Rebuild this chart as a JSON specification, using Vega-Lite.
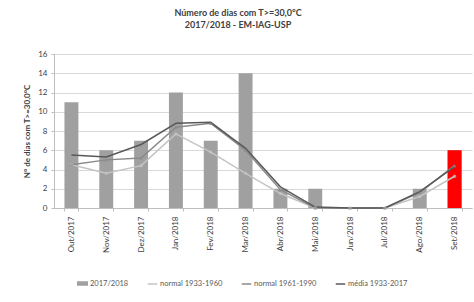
{
  "$schema": "https://vega.github.io/schema/vega-lite/v6.json",
  "autosize": {"type": "none"},
  "width": 418,
  "height": 154,
  "padding": {"left": 54, "top": 54, "right": 2, "bottom": 94},
  "background": "white",
  "config": {
    "font": "Lato",
    "view": {"stroke": null},
    "axis": {"labelColor": "#404040", "titleColor": "#404040", "labelFontSize": 8, "domainColor": "#bfbfbf", "tickColor": "#bfbfbf", "gridColor": "#d9d9d9"}
  },
  "title": {
    "text": ["Número de dias com T>=30,0°C", "2017/2018 - EM-IAG-USP"],
    "fontSize": 9,
    "fontWeight": "bold",
    "color": "#404040",
    "anchor": "middle",
    "dx": -25,
    "offset": 20,
    "lineHeight": 12
  },
  "data": {
    "values": [
      {"mes": "Out/2017", "serie": "2017/2018", "valor": 11},
      {"mes": "Nov/2017", "serie": "2017/2018", "valor": 6},
      {"mes": "Dez/2017", "serie": "2017/2018", "valor": 7},
      {"mes": "Jan/2018", "serie": "2017/2018", "valor": 12},
      {"mes": "Fev/2018", "serie": "2017/2018", "valor": 7},
      {"mes": "Mar/2018", "serie": "2017/2018", "valor": 14},
      {"mes": "Abr/2018", "serie": "2017/2018", "valor": 2},
      {"mes": "Mai/2018", "serie": "2017/2018", "valor": 2},
      {"mes": "Jun/2018", "serie": "2017/2018", "valor": 0},
      {"mes": "Jul/2018", "serie": "2017/2018", "valor": 0},
      {"mes": "Ago/2018", "serie": "2017/2018", "valor": 2},
      {"mes": "Set/2018", "serie": "2017/2018", "valor": 6},
      {"mes": "Out/2017", "serie": "normal 1933-1960", "valor": 4.5},
      {"mes": "Nov/2017", "serie": "normal 1933-1960", "valor": 3.6},
      {"mes": "Dez/2017", "serie": "normal 1933-1960", "valor": 4.4},
      {"mes": "Jan/2018", "serie": "normal 1933-1960", "valor": 7.7},
      {"mes": "Fev/2018", "serie": "normal 1933-1960", "valor": 5.8},
      {"mes": "Mar/2018", "serie": "normal 1933-1960", "valor": 3.6},
      {"mes": "Abr/2018", "serie": "normal 1933-1960", "valor": 1.5},
      {"mes": "Mai/2018", "serie": "normal 1933-1960", "valor": 0},
      {"mes": "Jun/2018", "serie": "normal 1933-1960", "valor": 0},
      {"mes": "Jul/2018", "serie": "normal 1933-1960", "valor": 0},
      {"mes": "Ago/2018", "serie": "normal 1933-1960", "valor": 1.2},
      {"mes": "Set/2018", "serie": "normal 1933-1960", "valor": 3.3},
      {"mes": "Out/2017", "serie": "normal 1961-1990", "valor": 4.5},
      {"mes": "Nov/2017", "serie": "normal 1961-1990", "valor": 5.0},
      {"mes": "Dez/2017", "serie": "normal 1961-1990", "valor": 5.2},
      {"mes": "Jan/2018", "serie": "normal 1961-1990", "valor": 8.4},
      {"mes": "Fev/2018", "serie": "normal 1961-1990", "valor": 8.8},
      {"mes": "Mar/2018", "serie": "normal 1961-1990", "valor": 6.0},
      {"mes": "Abr/2018", "serie": "normal 1961-1990", "valor": 1.9},
      {"mes": "Mai/2018", "serie": "normal 1961-1990", "valor": 0},
      {"mes": "Jun/2018", "serie": "normal 1961-1990", "valor": 0},
      {"mes": "Jul/2018", "serie": "normal 1961-1990", "valor": 0},
      {"mes": "Ago/2018", "serie": "normal 1961-1990", "valor": 1.6},
      {"mes": "Set/2018", "serie": "normal 1961-1990", "valor": 4.4},
      {"mes": "Out/2017", "serie": "média 1933-2017", "valor": 5.5},
      {"mes": "Nov/2017", "serie": "média 1933-2017", "valor": 5.3},
      {"mes": "Dez/2017", "serie": "média 1933-2017", "valor": 6.6},
      {"mes": "Jan/2018", "serie": "média 1933-2017", "valor": 8.8},
      {"mes": "Fev/2018", "serie": "média 1933-2017", "valor": 8.9},
      {"mes": "Mar/2018", "serie": "média 1933-2017", "valor": 6.2},
      {"mes": "Abr/2018", "serie": "média 1933-2017", "valor": 2.2},
      {"mes": "Mai/2018", "serie": "média 1933-2017", "valor": 0.1},
      {"mes": "Jun/2018", "serie": "média 1933-2017", "valor": 0},
      {"mes": "Jul/2018", "serie": "média 1933-2017", "valor": 0},
      {"mes": "Ago/2018", "serie": "média 1933-2017", "valor": 1.7},
      {"mes": "Set/2018", "serie": "média 1933-2017", "valor": 4.3}
    ]
  },
  "encoding": {
    "x": {
      "field": "mes", "type": "ordinal", "sort": null,
      "scale": {"paddingInner": 0.6, "paddingOuter": 0.3},
      "axis": {"title": null, "labelAngle": 270, "labelAlign": "right", "labelBaseline": "middle", "labelPadding": 5, "tickBand": "extent", "tickSize": 3, "labelFontSize": 8}
    },
    "y": {
      "field": "valor", "type": "quantitative",
      "scale": {"domain": [0, 16]},
      "axis": {"title": "N° de dias com T>=30,0°C", "titleFontSize": 8, "titleFontWeight": "bold", "titlePadding": 6, "values": [0, 2, 4, 6, 8, 10, 12, 14, 16], "tickSize": 3, "labelPadding": 4}
    }
  },
  "layer": [
    {
      "transform": [{"filter": "datum.serie === '2017/2018'"}],
      "mark": {"type": "bar"},
      "encoding": {
        "color": {
          "field": "serie", "type": "nominal",
          "scale": {"domain": ["2017/2018", "normal 1933-1960", "normal 1961-1990", "média 1933-2017"], "range": ["#a0a0a0", "#c4c4c4", "#8a8a8a", "#595959"]},
          "legend": {
            "title": null, "orient": "none", "legendX": 23, "legendY": 224,
            "direction": "horizontal", "columns": 4, "columnPadding": 15,
            "labelFontSize": 7.5, "labelColor": "#595959", "symbolSize": 90, "labelOffset": 2,
            "encode": {"symbols": {"update": {
              "shape": {"signal": "datum.value === '2017/2018' ? 'M-1,-0.3L1,-0.3L1,0.3L-1,0.3Z' : 'stroke'"},
              "fill": {"scale": "color", "field": "value"},
              "stroke": {"scale": "color", "field": "value"},
              "strokeWidth": {"value": 1.5},
              "opacity": {"value": 1}
            }}}
          }
        }
      }
    },
    {
      "transform": [{"filter": "datum.serie === '2017/2018' && datum.mes === 'Set/2018'"}],
      "mark": {"type": "bar", "color": "#ff0000"}
    },
    {
      "transform": [{"filter": "datum.serie !== '2017/2018'"}],
      "mark": {"type": "line", "strokeWidth": 1.5},
      "encoding": {"color": {"field": "serie", "type": "nominal"}}
    },
    {
      "transform": [{"filter": "datum.serie === 'normal 1933-1960'"}],
      "mark": {"type": "point", "shape": "circle", "size": 12, "filled": true},
      "encoding": {"color": {"field": "serie", "type": "nominal"}}
    },
    {
      "transform": [{"filter": "datum.serie === 'normal 1961-1990'"}],
      "mark": {"type": "point", "shape": "triangle-up", "size": 14, "filled": true},
      "encoding": {"color": {"field": "serie", "type": "nominal"}}
    }
  ]
}
